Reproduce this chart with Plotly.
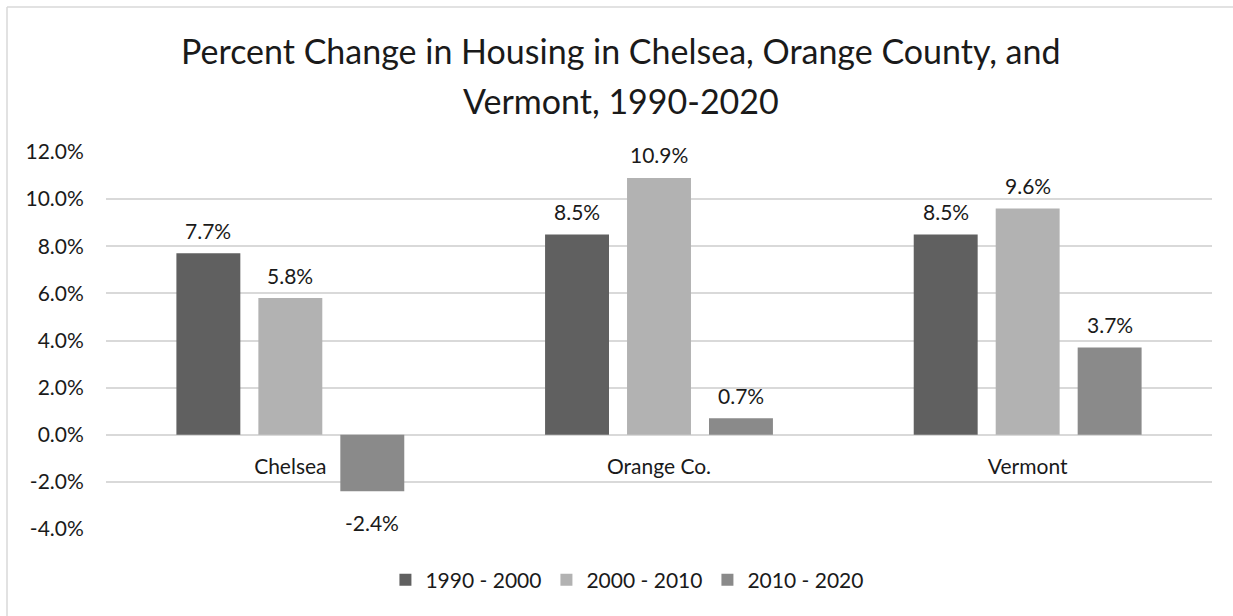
import plotly.graph_objects as go

categories = ["Chelsea", "Orange Co.", "Vermont"]
series_names = ["1990 - 2000", "2000 - 2010", "2010 - 2020"]
v_1990_2000 = [0.077, 0.085, 0.085]
v_2000_2010 = [0.058, 0.109, 0.096]
v_2010_2020 = [-0.024, 0.007, 0.037]
y_ticks = [-0.04, -0.02, 0.0, 0.02, 0.04, 0.06, 0.08, 0.10, 0.12]
y_tick_labels = ["-4.0%", "-2.0%", "0.0%", "2.0%", "4.0%", "6.0%", "8.0%", "10.0%", "12.0%"]
title_lines = ["Percent Change in Housing in Chelsea, Orange County, and", "Vermont, 1990-2020"]

series_values = [v_1990_2000, v_2000_2010, v_2010_2020]
colors = ["#606060", "#b2b2b2", "#8a8a8a"]

FONT = "Lato"
TXT = "#1a1a1a"
W, H = 1233, 616
ML, MR, MT, MB = 106, 21, 152, 87
PW, PH = W - ML - MR, H - MT - MB
BARGAP = 0.333

fig = go.Figure()
for name, vals, col in zip(series_names, series_values, colors):
    fig.add_trace(go.Bar(x=categories, y=vals, name=name, marker=dict(color=col, line=dict(width=0))))

# data labels
slot = (1 - BARGAP) / 3
for j, vals in enumerate(series_values):
    for i, v in enumerate(vals):
        fig.add_annotation(
            x=i + (j - 1) * slot, y=v, xref="x", yref="y",
            text=f"{v*100:.1f}%", showarrow=False,
            yshift=23 if v >= 0 else -31, yanchor="middle",
            font=dict(family=FONT, size=21, color=TXT),
        )

# title (two lines)
for line, yc in zip(title_lines, [51, 101]):
    fig.add_annotation(
        text=line, showarrow=False, xref="paper", yref="paper",
        x=(621 - ML) / PW, xanchor="center", y=1 + (MT - yc) / PH, yanchor="middle",
        font=dict(family=FONT, size=34, color=TXT),
    )

# outer chart border (top and left edges visible in frame)
bx0 = (7 - ML) / PW
by1 = 1 + (MT - 7) / PH
fig.add_shape(type="line", xref="paper", yref="paper", x0=bx0, x1=(W + 5 - ML) / PW, y0=by1, y1=by1,
              line=dict(color="#d9d9d9", width=1.5), layer="below")
fig.add_shape(type="line", xref="paper", yref="paper", x0=bx0, x1=bx0, y0=-(MB + 5) / PH, y1=by1,
              line=dict(color="#d9d9d9", width=1.5), layer="below")

fig.update_layout(
    width=W, height=H,
    margin=dict(l=ML, r=MR, t=MT, b=MB),
    paper_bgcolor="white", plot_bgcolor="white",
    barmode="group", bargap=BARGAP, bargroupgap=0.22,
    font=dict(family=FONT, size=21, color=TXT),
    xaxis=dict(anchor="free", position=0.25, showgrid=False, showline=False, zeroline=False,
               ticks="outside", ticklen=13, tickcolor="rgba(0,0,0,0)",
               tickfont=dict(family=FONT, size=21, color=TXT)),
    yaxis=dict(range=[-0.04, 0.12], tickvals=y_ticks, ticktext=y_tick_labels,
               showgrid=True, gridcolor="#d9d9d9", gridwidth=1.5,
               zeroline=True, zerolinecolor="#d9d9d9", zerolinewidth=1.5,
               showline=False, ticks="outside", ticklen=17, tickcolor="rgba(0,0,0,0)",
               tickfont=dict(family=FONT, size=21, color=TXT)),
    legend=dict(orientation="h", x=0.471, xanchor="center", y=-(580 - (H - MB)) / PH,
                yanchor="middle", font=dict(family=FONT, size=21, color=TXT),
                itemwidth=30, traceorder="normal"),
)

post = ("document.documentElement.style.margin='0';document.body.style.margin='0';"
        "document.documentElement.style.overflow='hidden';document.body.style.overflow='hidden';"
        "document.body.style.background='white';")
fig.write_html("out.html", post_script=post, config={"displayModeBar": False})
